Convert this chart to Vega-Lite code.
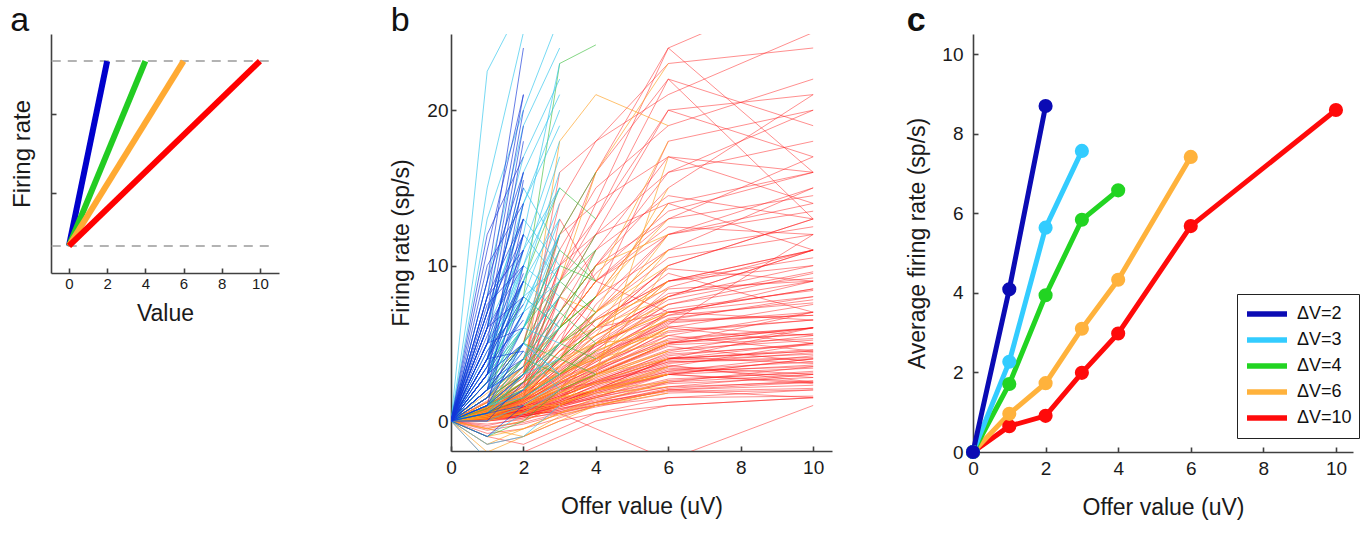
{
"$schema": "https://vega.github.io/schema/vega-lite/v6.json",
"background": "white",
"padding": {"left": 10, "top": 4, "right": 8, "bottom": 4},
"config": {
  "view": {"stroke": null},
  "font": "Liberation Sans",
  "axis": {"grid": false, "domainColor": "#404040", "domainWidth": 1.6, "tickColor": "#404040", "tickWidth": 1.6, "tickSize": -5, "labelColor": "#1a1a1a", "titleColor": "#1a1a1a", "titleFontWeight": "normal", "labelFont": "Liberation Sans", "titleFont": "Liberation Sans", "labelFlush": false, "labelOverlap": false}
},
"resolve": {"scale": {"color": "independent"}, "legend": {"color": "independent"}},
"datasets": {
  "aref": [{"x": -0.9, "x2": 10.8, "y": 0.34}, {"x": -0.9, "x2": 10.8, "y": 2.66}],
  "alines": [
    {"d": "2", "x": 0, "y": 0.34}, {"d": "2", "x": 2, "y": 2.66},
    {"d": "4", "x": 0, "y": 0.34}, {"d": "4", "x": 4, "y": 2.66},
    {"d": "6", "x": 0, "y": 0.34}, {"d": "6", "x": 6, "y": 2.66},
    {"d": "10", "x": 0, "y": 0.34}, {"d": "10", "x": 10, "y": 2.66}
  ],
  "b2": [
    {"n":1,"x":0,"y":0},{"n":1,"x":1,"y":4},{"n":1,"x":2,"y":9},
    {"n":2,"x":0,"y":0},{"n":2,"x":1,"y":6},{"n":2,"x":2,"y":16},
    {"n":3,"x":0,"y":0},{"n":3,"x":1,"y":3},{"n":3,"x":2,"y":7},
    {"n":4,"x":0,"y":0},{"n":4,"x":1,"y":8},{"n":4,"x":2,"y":21},
    {"n":5,"x":0,"y":0},{"n":5,"x":1,"y":5},{"n":5,"x":2,"y":12},
    {"n":6,"x":0,"y":0},{"n":6,"x":1,"y":2},{"n":6,"x":2,"y":5},
    {"n":7,"x":0,"y":0},{"n":7,"x":1,"y":7},{"n":7,"x":2,"y":15},
    {"n":8,"x":0,"y":0},{"n":8,"x":1,"y":1},{"n":8,"x":2,"y":3},
    {"n":9,"x":0,"y":0},{"n":9,"x":1,"y":4},{"n":9,"x":2,"y":11},
    {"n":10,"x":0,"y":0},{"n":10,"x":1,"y":9},{"n":10,"x":2,"y":24},
    {"n":11,"x":0,"y":0},{"n":11,"x":1,"y":3},{"n":11,"x":2,"y":13},
    {"n":12,"x":0,"y":0},{"n":12,"x":1,"y":6},{"n":12,"x":2,"y":10},
    {"n":13,"x":0,"y":0},{"n":13,"x":1,"y":2},{"n":13,"x":2,"y":8},
    {"n":14,"x":0,"y":0},{"n":14,"x":1,"y":5},{"n":14,"x":2,"y":18},
    {"n":15,"x":0,"y":0},{"n":15,"x":1,"y":10},{"n":15,"x":2,"y":14},
    {"n":16,"x":0,"y":0},{"n":16,"x":1,"y":1.5},{"n":16,"x":2,"y":6},
    {"n":17,"x":0,"y":0},{"n":17,"x":1,"y":3.5},{"n":17,"x":2,"y":9.5},
    {"n":18,"x":0,"y":0},{"n":18,"x":1,"y":0.5},{"n":18,"x":2,"y":2},
    {"n":19,"x":0,"y":0},{"n":19,"x":1,"y":7},{"n":19,"x":2,"y":20},
    {"n":20,"x":0,"y":0},{"n":20,"x":1,"y":4.5},{"n":20,"x":2,"y":7.5},
    {"n":21,"x":0,"y":0},{"n":21,"x":1,"y":2.5},{"n":21,"x":2,"y":4},
    {"n":22,"x":0,"y":0},{"n":22,"x":1,"y":6.5},{"n":22,"x":2,"y":13},
    {"n":23,"x":0,"y":0},{"n":23,"x":1,"y":12},{"n":23,"x":2,"y":17},
    {"n":24,"x":0,"y":0},{"n":24,"x":1,"y":3},{"n":24,"x":2,"y":15.5},
    {"n":25,"x":0,"y":0},{"n":25,"x":1,"y":1},{"n":25,"x":2,"y":10},
    {"n":26,"x":0,"y":0},{"n":26,"x":1,"y":5},{"n":26,"x":2,"y":6},
    {"n":27,"x":0,"y":0},{"n":27,"x":1,"y":-1},{"n":27,"x":2,"y":1},
    {"n":28,"x":0,"y":0},{"n":28,"x":1,"y":0},{"n":28,"x":2,"y":2.5},
    {"n":29,"x":0,"y":0},{"n":29,"x":1,"y":8},{"n":29,"x":2,"y":11},
    {"n":30,"x":0,"y":0},{"n":30,"x":1,"y":2},{"n":30,"x":2,"y":12},
    {"n":31,"x":0,"y":0},{"n":31,"x":1,"y":3},{"n":31,"x":2,"y":5},
    {"n":32,"x":0,"y":0},{"n":32,"x":1,"y":5},{"n":32,"x":2,"y":9},
    {"n":33,"x":0,"y":0},{"n":33,"x":1,"y":7},{"n":33,"x":2,"y":12},
    {"n":34,"x":0,"y":0},{"n":34,"x":1,"y":4},{"n":34,"x":2,"y":14},
    {"n":35,"x":0,"y":0},{"n":35,"x":1,"y":2},{"n":35,"x":2,"y":3.5},
    {"n":36,"x":0,"y":0},{"n":36,"x":1,"y":6},{"n":36,"x":2,"y":8},
    {"n":37,"x":0,"y":0},{"n":37,"x":1,"y":9},{"n":37,"x":2,"y":16},
    {"n":38,"x":0,"y":0},{"n":38,"x":1,"y":3.5},{"n":38,"x":2,"y":6.5},
    {"n":39,"x":0,"y":0},{"n":39,"x":1,"y":1.5},{"n":39,"x":2,"y":4.5},
    {"n":40,"x":0,"y":0},{"n":40,"x":1,"y":11},{"n":40,"x":2,"y":21},
    {"n":41,"x":0,"y":0},{"n":41,"x":1,"y":4},{"n":41,"x":2,"y":8},
    {"n":42,"x":0,"y":0},{"n":42,"x":1,"y":5.5},{"n":42,"x":2,"y":11},
    {"n":43,"x":0,"y":0},{"n":43,"x":1,"y":2.5},{"n":43,"x":2,"y":7},
    {"n":44,"x":0,"y":0},{"n":44,"x":1,"y":8},{"n":44,"x":2,"y":13},
    {"n":45,"x":0,"y":0},{"n":45,"x":1,"y":6},{"n":45,"x":2,"y":19},
    {"n":46,"x":0,"y":0},{"n":46,"x":1,"y":1},{"n":46,"x":2,"y":5},
    {"n":47,"x":0,"y":0},{"n":47,"x":1,"y":3},{"n":47,"x":2,"y":9},
    {"n":48,"x":0,"y":0},{"n":48,"x":1,"y":7.5},{"n":48,"x":2,"y":10},
    {"n":49,"x":0,"y":0},{"n":49,"x":1,"y":0.5},{"n":49,"x":2,"y":1},
    {"n":50,"x":0,"y":0},{"n":50,"x":1,"y":4},{"n":50,"x":2,"y":4.5}
  ],
  "b3": [
    {"n":1,"x":0,"y":0},{"n":1,"x":1,"y":2},{"n":1,"x":2,"y":5},{"n":1,"x":3,"y":8},
    {"n":2,"x":0,"y":0},{"n":2,"x":1,"y":4},{"n":2,"x":2,"y":10},{"n":2,"x":3,"y":15},
    {"n":3,"x":0,"y":0},{"n":3,"x":1,"y":1},{"n":3,"x":2,"y":3},{"n":3,"x":3,"y":6},
    {"n":4,"x":0,"y":0},{"n":4,"x":1,"y":6},{"n":4,"x":2,"y":14},{"n":4,"x":3,"y":20},
    {"n":5,"x":0,"y":0},{"n":5,"x":1,"y":3},{"n":5,"x":2,"y":7},{"n":5,"x":3,"y":12},
    {"n":6,"x":0,"y":0},{"n":6,"x":1,"y":22.5},{"n":6,"x":2,"y":27},{"n":6,"x":3,"y":29},
    {"n":7,"x":0,"y":0},{"n":7,"x":1,"y":5},{"n":7,"x":2,"y":12},{"n":7,"x":3,"y":23},
    {"n":8,"x":0,"y":0},{"n":8,"x":1,"y":2},{"n":8,"x":2,"y":9},{"n":8,"x":3,"y":16},
    {"n":9,"x":0,"y":0},{"n":9,"x":1,"y":8},{"n":9,"x":2,"y":17},{"n":9,"x":3,"y":22},
    {"n":10,"x":0,"y":0},{"n":10,"x":1,"y":1},{"n":10,"x":2,"y":4},{"n":10,"x":3,"y":9},
    {"n":11,"x":0,"y":0},{"n":11,"x":1,"y":3},{"n":11,"x":2,"y":6},{"n":11,"x":3,"y":5},
    {"n":12,"x":0,"y":0},{"n":12,"x":1,"y":7},{"n":12,"x":2,"y":13},{"n":12,"x":3,"y":10},
    {"n":13,"x":0,"y":0},{"n":13,"x":1,"y":0.5},{"n":13,"x":2,"y":2},{"n":13,"x":3,"y":4},
    {"n":14,"x":0,"y":0},{"n":14,"x":1,"y":4},{"n":14,"x":2,"y":8},{"n":14,"x":3,"y":14},
    {"n":15,"x":0,"y":0},{"n":15,"x":1,"y":2.5},{"n":15,"x":2,"y":11},{"n":15,"x":3,"y":18},
    {"n":16,"x":0,"y":0},{"n":16,"x":1,"y":6},{"n":16,"x":2,"y":16},{"n":16,"x":3,"y":21},
    {"n":17,"x":0,"y":0},{"n":17,"x":1,"y":1.5},{"n":17,"x":2,"y":5},{"n":17,"x":3,"y":3},
    {"n":18,"x":0,"y":0},{"n":18,"x":1,"y":9},{"n":18,"x":2,"y":19},{"n":18,"x":3,"y":24},
    {"n":19,"x":0,"y":0},{"n":19,"x":1,"y":3},{"n":19,"x":2,"y":9},{"n":19,"x":3,"y":7},
    {"n":20,"x":0,"y":0},{"n":20,"x":1,"y":5},{"n":20,"x":2,"y":7},{"n":20,"x":3,"y":13},
    {"n":21,"x":0,"y":0},{"n":21,"x":1,"y":2},{"n":21,"x":2,"y":6},{"n":21,"x":3,"y":11},
    {"n":22,"x":0,"y":0},{"n":22,"x":1,"y":4},{"n":22,"x":2,"y":12},{"n":22,"x":3,"y":9},
    {"n":23,"x":0,"y":0},{"n":23,"x":1,"y":1},{"n":23,"x":2,"y":2},{"n":23,"x":3,"y":5},
    {"n":24,"x":0,"y":0},{"n":24,"x":1,"y":13},{"n":24,"x":2,"y":20},{"n":24,"x":3,"y":26},
    {"n":25,"x":0,"y":0},{"n":25,"x":1,"y":3.5},{"n":25,"x":2,"y":14},{"n":25,"x":3,"y":19},
    {"n":26,"x":0,"y":0},{"n":26,"x":1,"y":-1.5},{"n":26,"x":2,"y":-1},{"n":26,"x":3,"y":1},
    {"n":27,"x":0,"y":0},{"n":27,"x":1,"y":-2.5},{"n":27,"x":2,"y":-3},{"n":27,"x":3,"y":-2},
    {"n":28,"x":0,"y":0},{"n":28,"x":1,"y":0},{"n":28,"x":2,"y":1},{"n":28,"x":3,"y":2.5},
    {"n":29,"x":0,"y":0},{"n":29,"x":1,"y":2},{"n":29,"x":2,"y":3.5},{"n":29,"x":3,"y":6.5},
    {"n":30,"x":0,"y":0},{"n":30,"x":1,"y":15},{"n":30,"x":2,"y":25},{"n":30,"x":3,"y":27},
    {"n":31,"x":0,"y":0},{"n":31,"x":1,"y":2},{"n":31,"x":2,"y":4},{"n":31,"x":3,"y":6},
    {"n":32,"x":0,"y":0},{"n":32,"x":1,"y":3},{"n":32,"x":2,"y":8},{"n":32,"x":3,"y":10},
    {"n":33,"x":0,"y":0},{"n":33,"x":1,"y":1},{"n":33,"x":2,"y":3},{"n":33,"x":3,"y":4},
    {"n":34,"x":0,"y":0},{"n":34,"x":1,"y":5},{"n":34,"x":2,"y":10},{"n":34,"x":3,"y":8},
    {"n":35,"x":0,"y":0},{"n":35,"x":1,"y":2},{"n":35,"x":2,"y":7},{"n":35,"x":3,"y":9},
    {"n":36,"x":0,"y":0},{"n":36,"x":1,"y":4},{"n":36,"x":2,"y":6},{"n":36,"x":3,"y":12},
    {"n":37,"x":0,"y":0},{"n":37,"x":1,"y":1.5},{"n":37,"x":2,"y":4},{"n":37,"x":3,"y":7},
    {"n":38,"x":0,"y":0},{"n":38,"x":1,"y":3},{"n":38,"x":2,"y":5},{"n":38,"x":3,"y":3},
    {"n":39,"x":0,"y":0},{"n":39,"x":1,"y":6},{"n":39,"x":2,"y":11},{"n":39,"x":3,"y":15},
    {"n":40,"x":0,"y":0},{"n":40,"x":1,"y":2.5},{"n":40,"x":2,"y":6},{"n":40,"x":3,"y":10},
    {"n":41,"x":0,"y":0},{"n":41,"x":1,"y":0.5},{"n":41,"x":2,"y":3},{"n":41,"x":3,"y":5},
    {"n":42,"x":0,"y":0},{"n":42,"x":1,"y":4.5},{"n":42,"x":2,"y":9},{"n":42,"x":3,"y":13},
    {"n":43,"x":0,"y":0},{"n":43,"x":1,"y":1},{"n":43,"x":2,"y":5},{"n":43,"x":3,"y":8},
    {"n":44,"x":0,"y":0},{"n":44,"x":1,"y":3},{"n":44,"x":2,"y":10},{"n":44,"x":3,"y":17},
    {"n":45,"x":0,"y":0},{"n":45,"x":1,"y":2},{"n":45,"x":2,"y":4.5},{"n":45,"x":3,"y":2},
    {"n":46,"x":0,"y":0},{"n":46,"x":1,"y":7},{"n":46,"x":2,"y":15},{"n":46,"x":3,"y":11},
    {"n":47,"x":0,"y":0},{"n":47,"x":1,"y":1},{"n":47,"x":2,"y":1.5},{"n":47,"x":3,"y":3},
    {"n":48,"x":0,"y":0},{"n":48,"x":1,"y":5},{"n":48,"x":2,"y":8},{"n":48,"x":3,"y":6},
    {"n":49,"x":0,"y":0},{"n":49,"x":1,"y":3.5},{"n":49,"x":2,"y":7.5},{"n":49,"x":3,"y":12},
    {"n":50,"x":0,"y":0},{"n":50,"x":1,"y":-1},{"n":50,"x":2,"y":0.5},{"n":50,"x":3,"y":2}
  ],
  "b4": [
    {"n":1,"x":0,"y":0},{"n":1,"x":1,"y":1},{"n":1,"x":2,"y":3},{"n":1,"x":3,"y":6},{"n":1,"x":4,"y":8},
    {"n":2,"x":0,"y":0},{"n":2,"x":1,"y":2},{"n":2,"x":2,"y":5},{"n":2,"x":3,"y":9},{"n":2,"x":4,"y":7},
    {"n":3,"x":0,"y":0},{"n":3,"x":1,"y":0.5},{"n":3,"x":2,"y":2},{"n":3,"x":3,"y":4},{"n":3,"x":4,"y":6},
    {"n":4,"x":0,"y":0},{"n":4,"x":1,"y":3},{"n":4,"x":2,"y":8},{"n":4,"x":3,"y":23},{"n":4,"x":4,"y":24.2},
    {"n":5,"x":0,"y":0},{"n":5,"x":1,"y":1.5},{"n":5,"x":2,"y":4},{"n":5,"x":3,"y":8},{"n":5,"x":4,"y":12},
    {"n":6,"x":0,"y":0},{"n":6,"x":1,"y":2},{"n":6,"x":2,"y":6},{"n":6,"x":3,"y":10},{"n":6,"x":4,"y":9},
    {"n":7,"x":0,"y":0},{"n":7,"x":1,"y":1},{"n":7,"x":2,"y":2},{"n":7,"x":3,"y":5},{"n":7,"x":4,"y":4},
    {"n":8,"x":0,"y":0},{"n":8,"x":1,"y":4},{"n":8,"x":2,"y":9},{"n":8,"x":3,"y":15},{"n":8,"x":4,"y":13},
    {"n":9,"x":0,"y":0},{"n":9,"x":1,"y":0.5},{"n":9,"x":2,"y":3},{"n":9,"x":3,"y":7},{"n":9,"x":4,"y":10},
    {"n":10,"x":0,"y":0},{"n":10,"x":1,"y":2.5},{"n":10,"x":2,"y":5},{"n":10,"x":3,"y":12},{"n":10,"x":4,"y":16},
    {"n":11,"x":0,"y":0},{"n":11,"x":1,"y":1},{"n":11,"x":2,"y":4},{"n":11,"x":3,"y":3},{"n":11,"x":4,"y":5},
    {"n":12,"x":0,"y":0},{"n":12,"x":1,"y":3},{"n":12,"x":2,"y":8},{"n":12,"x":3,"y":6},{"n":12,"x":4,"y":11},
    {"n":13,"x":0,"y":0},{"n":13,"x":1,"y":-1},{"n":13,"x":2,"y":0},{"n":13,"x":3,"y":2},{"n":13,"x":4,"y":3},
    {"n":14,"x":0,"y":0},{"n":14,"x":1,"y":0.8},{"n":14,"x":2,"y":2.5},{"n":14,"x":3,"y":5},{"n":14,"x":4,"y":6.5},
    {"n":15,"x":0,"y":0},{"n":15,"x":1,"y":1.5},{"n":15,"x":2,"y":3},{"n":15,"x":3,"y":5},{"n":15,"x":4,"y":7},
    {"n":16,"x":0,"y":0},{"n":16,"x":1,"y":2},{"n":16,"x":2,"y":4},{"n":16,"x":3,"y":7},{"n":16,"x":4,"y":5},
    {"n":17,"x":0,"y":0},{"n":17,"x":1,"y":0.5},{"n":17,"x":2,"y":1.5},{"n":17,"x":3,"y":3},{"n":17,"x":4,"y":4.5},
    {"n":18,"x":0,"y":0},{"n":18,"x":1,"y":3},{"n":18,"x":2,"y":6},{"n":18,"x":3,"y":9},{"n":18,"x":4,"y":11},
    {"n":19,"x":0,"y":0},{"n":19,"x":1,"y":1},{"n":19,"x":2,"y":3.5},{"n":19,"x":3,"y":6},{"n":19,"x":4,"y":8},
    {"n":20,"x":0,"y":0},{"n":20,"x":1,"y":2},{"n":20,"x":2,"y":5},{"n":20,"x":3,"y":4},{"n":20,"x":4,"y":6},
    {"n":21,"x":0,"y":0},{"n":21,"x":1,"y":1},{"n":21,"x":2,"y":2.5},{"n":21,"x":3,"y":4},{"n":21,"x":4,"y":3},
    {"n":22,"x":0,"y":0},{"n":22,"x":1,"y":2.5},{"n":22,"x":2,"y":6},{"n":22,"x":3,"y":11},{"n":22,"x":4,"y":9}
  ],
  "b6": [
    {"n":1,"x":0,"y":0},{"n":1,"x":1,"y":0.5},{"n":1,"x":2,"y":1},{"n":1,"x":3,"y":2},{"n":1,"x":4,"y":3},{"n":1,"x":6,"y":5},
    {"n":2,"x":0,"y":0},{"n":2,"x":1,"y":1},{"n":2,"x":2,"y":2},{"n":2,"x":3,"y":4},{"n":2,"x":4,"y":6},{"n":2,"x":6,"y":9},
    {"n":3,"x":0,"y":0},{"n":3,"x":1,"y":0.3},{"n":3,"x":2,"y":0.8},{"n":3,"x":3,"y":1.5},{"n":3,"x":4,"y":2.5},{"n":3,"x":6,"y":4},
    {"n":4,"x":0,"y":0},{"n":4,"x":1,"y":1.5},{"n":4,"x":2,"y":3},{"n":4,"x":3,"y":6},{"n":4,"x":4,"y":8},{"n":4,"x":6,"y":13},
    {"n":5,"x":0,"y":0},{"n":5,"x":1,"y":0.5},{"n":5,"x":2,"y":3},{"n":5,"x":3,"y":18},{"n":5,"x":4,"y":21},{"n":5,"x":6,"y":19},
    {"n":6,"x":0,"y":0},{"n":6,"x":1,"y":1},{"n":6,"x":2,"y":4},{"n":6,"x":3,"y":9},{"n":6,"x":4,"y":16},{"n":6,"x":6,"y":23},
    {"n":7,"x":0,"y":0},{"n":7,"x":1,"y":0.2},{"n":7,"x":2,"y":0.5},{"n":7,"x":3,"y":1},{"n":7,"x":4,"y":2},{"n":7,"x":6,"y":3},
    {"n":8,"x":0,"y":0},{"n":8,"x":1,"y":1},{"n":8,"x":2,"y":2},{"n":8,"x":3,"y":3},{"n":8,"x":4,"y":5},{"n":8,"x":6,"y":7},
    {"n":9,"x":0,"y":0},{"n":9,"x":1,"y":-0.5},{"n":9,"x":2,"y":-1},{"n":9,"x":3,"y":0},{"n":9,"x":4,"y":1},{"n":9,"x":6,"y":2},
    {"n":10,"x":0,"y":0},{"n":10,"x":1,"y":0.8},{"n":10,"x":2,"y":1.5},{"n":10,"x":3,"y":3},{"n":10,"x":4,"y":4},{"n":10,"x":6,"y":6},
    {"n":11,"x":0,"y":0},{"n":11,"x":1,"y":2},{"n":11,"x":2,"y":4},{"n":11,"x":3,"y":7},{"n":11,"x":4,"y":10},{"n":11,"x":6,"y":12},
    {"n":12,"x":0,"y":0},{"n":12,"x":1,"y":0.4},{"n":12,"x":2,"y":1},{"n":12,"x":3,"y":2},{"n":12,"x":4,"y":4},{"n":12,"x":6,"y":8},
    {"n":13,"x":0,"y":0},{"n":13,"x":1,"y":1.2},{"n":13,"x":2,"y":2.5},{"n":13,"x":3,"y":3.5},{"n":13,"x":4,"y":5},{"n":13,"x":6,"y":5.5},
    {"n":14,"x":0,"y":0},{"n":14,"x":1,"y":0.6},{"n":14,"x":2,"y":1.8},{"n":14,"x":3,"y":2.8},{"n":14,"x":4,"y":3.5},{"n":14,"x":6,"y":10},
    {"n":15,"x":0,"y":0},{"n":15,"x":1,"y":0},{"n":15,"x":2,"y":0.5},{"n":15,"x":3,"y":1.5},{"n":15,"x":4,"y":2},{"n":15,"x":6,"y":2.5},
    {"n":16,"x":0,"y":0},{"n":16,"x":1,"y":1.5},{"n":16,"x":2,"y":2},{"n":16,"x":3,"y":4},{"n":16,"x":4,"y":7},{"n":16,"x":6,"y":15},
    {"n":17,"x":0,"y":0},{"n":17,"x":1,"y":0.3},{"n":17,"x":2,"y":1.2},{"n":17,"x":3,"y":2.2},{"n":17,"x":4,"y":3},{"n":17,"x":6,"y":4.5},
    {"n":18,"x":0,"y":0},{"n":18,"x":1,"y":2.5},{"n":18,"x":2,"y":5},{"n":18,"x":3,"y":8},{"n":18,"x":4,"y":7},{"n":18,"x":6,"y":11},
    {"n":19,"x":0,"y":0},{"n":19,"x":1,"y":0.7},{"n":19,"x":2,"y":1.4},{"n":19,"x":3,"y":2.6},{"n":19,"x":4,"y":4.5},{"n":19,"x":6,"y":6.5},
    {"n":20,"x":0,"y":0},{"n":20,"x":1,"y":-1},{"n":20,"x":2,"y":-0.5},{"n":20,"x":3,"y":0.5},{"n":20,"x":4,"y":1.5},{"n":20,"x":6,"y":3.5},
    {"n":21,"x":0,"y":0},{"n":21,"x":1,"y":1},{"n":21,"x":2,"y":3},{"n":21,"x":3,"y":5},{"n":21,"x":4,"y":6},{"n":21,"x":6,"y":8},
    {"n":22,"x":0,"y":0},{"n":22,"x":1,"y":0.5},{"n":22,"x":2,"y":1},{"n":22,"x":3,"y":1},{"n":22,"x":4,"y":3},{"n":22,"x":6,"y":17},
    {"n":23,"x":0,"y":0},{"n":23,"x":1,"y":0.9},{"n":23,"x":2,"y":2.2},{"n":23,"x":3,"y":4.5},{"n":23,"x":4,"y":5.5},{"n":23,"x":6,"y":7.5},
    {"n":24,"x":0,"y":0},{"n":24,"x":1,"y":0.2},{"n":24,"x":2,"y":0.6},{"n":24,"x":3,"y":1.8},{"n":24,"x":4,"y":2.4},{"n":24,"x":6,"y":3},
    {"n":25,"x":0,"y":0},{"n":25,"x":1,"y":-2},{"n":25,"x":2,"y":-1},{"n":25,"x":3,"y":0.3},{"n":25,"x":4,"y":1},{"n":25,"x":6,"y":1.8},
    {"n":26,"x":0,"y":0},{"n":26,"x":1,"y":1.8},{"n":26,"x":2,"y":3.5},{"n":26,"x":3,"y":6},{"n":26,"x":4,"y":9},{"n":26,"x":6,"y":18},
    {"n":27,"x":0,"y":0},{"n":27,"x":1,"y":0.4},{"n":27,"x":2,"y":1.6},{"n":27,"x":3,"y":3.2},{"n":27,"x":4,"y":4},{"n":27,"x":6,"y":5.2},
    {"n":28,"x":0,"y":0},{"n":28,"x":1,"y":0.5},{"n":28,"x":2,"y":1.2},{"n":28,"x":3,"y":2.5},{"n":28,"x":4,"y":3.5},{"n":28,"x":6,"y":6},
    {"n":29,"x":0,"y":0},{"n":29,"x":1,"y":1},{"n":29,"x":2,"y":2.5},{"n":29,"x":3,"y":4},{"n":29,"x":4,"y":5},{"n":29,"x":6,"y":9},
    {"n":30,"x":0,"y":0},{"n":30,"x":1,"y":0.3},{"n":30,"x":2,"y":1},{"n":30,"x":3,"y":1.8},{"n":30,"x":4,"y":2.8},{"n":30,"x":6,"y":4.5},
    {"n":31,"x":0,"y":0},{"n":31,"x":1,"y":0.8},{"n":31,"x":2,"y":2},{"n":31,"x":3,"y":3.5},{"n":31,"x":4,"y":5.5},{"n":31,"x":6,"y":11},
    {"n":32,"x":0,"y":0},{"n":32,"x":1,"y":0.2},{"n":32,"x":2,"y":0.8},{"n":32,"x":3,"y":1.5},{"n":32,"x":4,"y":2},{"n":32,"x":6,"y":3.5},
    {"n":33,"x":0,"y":0},{"n":33,"x":1,"y":1.2},{"n":33,"x":2,"y":3},{"n":33,"x":3,"y":5},{"n":33,"x":4,"y":7},{"n":33,"x":6,"y":10},
    {"n":34,"x":0,"y":0},{"n":34,"x":1,"y":0.6},{"n":34,"x":2,"y":1.5},{"n":34,"x":3,"y":2.5},{"n":34,"x":4,"y":3.5},{"n":34,"x":6,"y":5},
    {"n":35,"x":0,"y":0},{"n":35,"x":1,"y":-0.5},{"n":35,"x":2,"y":0},{"n":35,"x":3,"y":1},{"n":35,"x":4,"y":2},{"n":35,"x":6,"y":3},
    {"n":36,"x":0,"y":0},{"n":36,"x":1,"y":1},{"n":36,"x":2,"y":2},{"n":36,"x":3,"y":3},{"n":36,"x":4,"y":4.5},{"n":36,"x":6,"y":6.5},
    {"n":37,"x":0,"y":0},{"n":37,"x":1,"y":0.4},{"n":37,"x":2,"y":1},{"n":37,"x":3,"y":2.2},{"n":37,"x":4,"y":3.3},{"n":37,"x":6,"y":7},
    {"n":38,"x":0,"y":0},{"n":38,"x":1,"y":2},{"n":38,"x":2,"y":4},{"n":38,"x":3,"y":6},{"n":38,"x":4,"y":8},{"n":38,"x":6,"y":14},
    {"n":39,"x":0,"y":0},{"n":39,"x":1,"y":0.7},{"n":39,"x":2,"y":1.7},{"n":39,"x":3,"y":3},{"n":39,"x":4,"y":4.2},{"n":39,"x":6,"y":5.8},
    {"n":40,"x":0,"y":0},{"n":40,"x":1,"y":0.1},{"n":40,"x":2,"y":0.5},{"n":40,"x":3,"y":1.2},{"n":40,"x":4,"y":1.8},{"n":40,"x":6,"y":2.2},
    {"n":41,"x":0,"y":0},{"n":41,"x":1,"y":1.5},{"n":41,"x":2,"y":3.5},{"n":41,"x":3,"y":5},{"n":41,"x":4,"y":6.5},{"n":41,"x":6,"y":8.5},
    {"n":42,"x":0,"y":0},{"n":42,"x":1,"y":0.5},{"n":42,"x":2,"y":1.3},{"n":42,"x":3,"y":2},{"n":42,"x":4,"y":3},{"n":42,"x":6,"y":4},
    {"n":43,"x":0,"y":0},{"n":43,"x":1,"y":0.9},{"n":43,"x":2,"y":1.8},{"n":43,"x":3,"y":3.8},{"n":43,"x":4,"y":5},{"n":43,"x":6,"y":7},
    {"n":44,"x":0,"y":0},{"n":44,"x":1,"y":-1.5},{"n":44,"x":2,"y":-0.5},{"n":44,"x":3,"y":0.5},{"n":44,"x":4,"y":1.2},{"n":44,"x":6,"y":2.6},
    {"n":45,"x":0,"y":0},{"n":45,"x":1,"y":0.6},{"n":45,"x":2,"y":2},{"n":45,"x":3,"y":4},{"n":45,"x":4,"y":6},{"n":45,"x":6,"y":12}
  ],
  "b10": [
    {"n":1,"x":0,"y":0},{"n":1,"x":1,"y":0.2},{"n":1,"x":2,"y":0.5},{"n":1,"x":3,"y":1},{"n":1,"x":4,"y":1.5},{"n":1,"x":6,"y":2.5},{"n":1,"x":10,"y":3},
    {"n":2,"x":0,"y":0},{"n":2,"x":1,"y":0.5},{"n":2,"x":2,"y":1},{"n":2,"x":3,"y":2},{"n":2,"x":4,"y":3},{"n":2,"x":6,"y":5},{"n":2,"x":10,"y":6},
    {"n":3,"x":0,"y":0},{"n":3,"x":1,"y":0.1},{"n":3,"x":2,"y":0.3},{"n":3,"x":3,"y":0.8},{"n":3,"x":4,"y":1.2},{"n":3,"x":6,"y":2},{"n":3,"x":10,"y":2.3},
    {"n":4,"x":0,"y":0},{"n":4,"x":1,"y":-0.5},{"n":4,"x":2,"y":0},{"n":4,"x":3,"y":1},{"n":4,"x":4,"y":2},{"n":4,"x":6,"y":4},{"n":4,"x":10,"y":5},
    {"n":5,"x":0,"y":0},{"n":5,"x":1,"y":0.3},{"n":5,"x":2,"y":0.8},{"n":5,"x":3,"y":1.5},{"n":5,"x":4,"y":2.5},{"n":5,"x":6,"y":4},{"n":5,"x":10,"y":4.5},
    {"n":6,"x":0,"y":0},{"n":6,"x":1,"y":0.6},{"n":6,"x":2,"y":1.5},{"n":6,"x":3,"y":3},{"n":6,"x":4,"y":5},{"n":6,"x":6,"y":9},{"n":6,"x":10,"y":11},
    {"n":7,"x":0,"y":0},{"n":7,"x":1,"y":0},{"n":7,"x":2,"y":0.2},{"n":7,"x":3,"y":0.5},{"n":7,"x":4,"y":1},{"n":7,"x":6,"y":1.5},{"n":7,"x":10,"y":1.6},
    {"n":8,"x":0,"y":0},{"n":8,"x":1,"y":0.4},{"n":8,"x":2,"y":1},{"n":8,"x":3,"y":2},{"n":8,"x":4,"y":4},{"n":8,"x":6,"y":7},{"n":8,"x":10,"y":8.5},
    {"n":9,"x":0,"y":0},{"n":9,"x":1,"y":-0.3},{"n":9,"x":2,"y":0.2},{"n":9,"x":3,"y":1},{"n":9,"x":4,"y":1.8},{"n":9,"x":6,"y":3},{"n":9,"x":10,"y":4},
    {"n":10,"x":0,"y":0},{"n":10,"x":1,"y":0.2},{"n":10,"x":2,"y":0.6},{"n":10,"x":3,"y":1.2},{"n":10,"x":4,"y":2},{"n":10,"x":6,"y":3.5},{"n":10,"x":10,"y":5},
    {"n":11,"x":0,"y":0},{"n":11,"x":1,"y":0.8},{"n":11,"x":2,"y":2},{"n":11,"x":3,"y":4},{"n":11,"x":4,"y":6},{"n":11,"x":6,"y":10},{"n":11,"x":10,"y":13},
    {"n":12,"x":0,"y":0},{"n":12,"x":1,"y":0.1},{"n":12,"x":2,"y":0.4},{"n":12,"x":3,"y":0.6},{"n":12,"x":4,"y":1},{"n":12,"x":6,"y":2},{"n":12,"x":10,"y":1.5},
    {"n":13,"x":0,"y":0},{"n":13,"x":1,"y":0.5},{"n":13,"x":2,"y":1.2},{"n":13,"x":3,"y":2.5},{"n":13,"x":4,"y":3.5},{"n":13,"x":6,"y":6},{"n":13,"x":10,"y":5},
    {"n":14,"x":0,"y":0},{"n":14,"x":1,"y":0.3},{"n":14,"x":2,"y":0.7},{"n":14,"x":3,"y":1.8},{"n":14,"x":4,"y":3},{"n":14,"x":6,"y":5},{"n":14,"x":10,"y":7},
    {"n":15,"x":0,"y":0},{"n":15,"x":1,"y":-0.8},{"n":15,"x":2,"y":-0.5},{"n":15,"x":3,"y":0.2},{"n":15,"x":4,"y":1},{"n":15,"x":6,"y":2},{"n":15,"x":10,"y":2.5},
    {"n":16,"x":0,"y":0},{"n":16,"x":1,"y":1},{"n":16,"x":2,"y":3},{"n":16,"x":3,"y":16},{"n":16,"x":4,"y":18},{"n":16,"x":6,"y":21},{"n":16,"x":10,"y":25},
    {"n":17,"x":0,"y":0},{"n":17,"x":1,"y":0.4},{"n":17,"x":2,"y":1},{"n":17,"x":3,"y":2},{"n":17,"x":4,"y":5},{"n":17,"x":6,"y":8},{"n":17,"x":10,"y":10},
    {"n":18,"x":0,"y":0},{"n":18,"x":1,"y":0.6},{"n":18,"x":2,"y":1.4},{"n":18,"x":3,"y":3.5},{"n":18,"x":4,"y":6},{"n":18,"x":6,"y":7},{"n":18,"x":10,"y":6.5},
    {"n":19,"x":0,"y":0},{"n":19,"x":1,"y":0.1},{"n":19,"x":2,"y":0.3},{"n":19,"x":3,"y":1},{"n":19,"x":4,"y":2},{"n":19,"x":6,"y":4},{"n":19,"x":10,"y":4.5},
    {"n":20,"x":0,"y":0},{"n":20,"x":1,"y":0.5},{"n":20,"x":2,"y":1.5},{"n":20,"x":3,"y":4},{"n":20,"x":4,"y":7},{"n":20,"x":6,"y":11},{"n":20,"x":10,"y":15},
    {"n":21,"x":0,"y":0},{"n":21,"x":1,"y":0.2},{"n":21,"x":2,"y":0.4},{"n":21,"x":3,"y":0.9},{"n":21,"x":4,"y":1.5},{"n":21,"x":6,"y":3},{"n":21,"x":10,"y":4},
    {"n":22,"x":0,"y":0},{"n":22,"x":1,"y":1},{"n":22,"x":2,"y":2},{"n":22,"x":3,"y":5},{"n":22,"x":4,"y":10},{"n":22,"x":6,"y":15},{"n":22,"x":10,"y":21},
    {"n":23,"x":0,"y":0},{"n":23,"x":1,"y":0.3},{"n":23,"x":2,"y":0.9},{"n":23,"x":3,"y":2},{"n":23,"x":4,"y":2.5},{"n":23,"x":6,"y":3.5},{"n":23,"x":10,"y":3},
    {"n":24,"x":0,"y":0},{"n":24,"x":1,"y":-0.2},{"n":24,"x":2,"y":0.1},{"n":24,"x":3,"y":0.6},{"n":24,"x":4,"y":1.2},{"n":24,"x":6,"y":2.5},{"n":24,"x":10,"y":3.5},
    {"n":25,"x":0,"y":0},{"n":25,"x":1,"y":0.7},{"n":25,"x":2,"y":1.6},{"n":25,"x":3,"y":3},{"n":25,"x":4,"y":4},{"n":25,"x":6,"y":6.5},{"n":25,"x":10,"y":8},
    {"n":26,"x":0,"y":0},{"n":26,"x":1,"y":0.4},{"n":26,"x":2,"y":1.1},{"n":26,"x":3,"y":2.2},{"n":26,"x":4,"y":3.2},{"n":26,"x":6,"y":5.5},{"n":26,"x":10,"y":4.5},
    {"n":27,"x":0,"y":0},{"n":27,"x":1,"y":0.2},{"n":27,"x":2,"y":0.8},{"n":27,"x":3,"y":1.6},{"n":27,"x":4,"y":2.8},{"n":27,"x":6,"y":4.5},{"n":27,"x":10,"y":6},
    {"n":28,"x":0,"y":0},{"n":28,"x":1,"y":1.5},{"n":28,"x":2,"y":3},{"n":28,"x":3,"y":8},{"n":28,"x":4,"y":12},{"n":28,"x":6,"y":20},{"n":28,"x":10,"y":17},
    {"n":29,"x":0,"y":0},{"n":29,"x":1,"y":0},{"n":29,"x":2,"y":0.3},{"n":29,"x":3,"y":0.7},{"n":29,"x":4,"y":1.4},{"n":29,"x":6,"y":2.2},{"n":29,"x":10,"y":3},
    {"n":30,"x":0,"y":0},{"n":30,"x":1,"y":0.5},{"n":30,"x":2,"y":1.3},{"n":30,"x":3,"y":2.8},{"n":30,"x":4,"y":4.5},{"n":30,"x":6,"y":8.5},{"n":30,"x":10,"y":9},
    {"n":31,"x":0,"y":0},{"n":31,"x":1,"y":0.3},{"n":31,"x":2,"y":0.6},{"n":31,"x":3,"y":1.4},{"n":31,"x":4,"y":2},{"n":31,"x":6,"y":3},{"n":31,"x":10,"y":2.5},
    {"n":32,"x":0,"y":0},{"n":32,"x":1,"y":0.9},{"n":32,"x":2,"y":2.5},{"n":32,"x":3,"y":6},{"n":32,"x":4,"y":9},{"n":32,"x":6,"y":13},{"n":32,"x":10,"y":17},
    {"n":33,"x":0,"y":0},{"n":33,"x":1,"y":0.1},{"n":33,"x":2,"y":0.5},{"n":33,"x":3,"y":1.1},{"n":33,"x":4,"y":1.9},{"n":33,"x":6,"y":3.2},{"n":33,"x":10,"y":4.2},
    {"n":34,"x":0,"y":0},{"n":34,"x":1,"y":0.6},{"n":34,"x":2,"y":1.8},{"n":34,"x":3,"y":3.2},{"n":34,"x":4,"y":4.8},{"n":34,"x":6,"y":7.5},{"n":34,"x":10,"y":9.5},
    {"n":35,"x":0,"y":0},{"n":35,"x":1,"y":-0.6},{"n":35,"x":2,"y":-0.2},{"n":35,"x":3,"y":0.4},{"n":35,"x":4,"y":0.9},{"n":35,"x":6,"y":1.8},{"n":35,"x":10,"y":2},
    {"n":36,"x":0,"y":0},{"n":36,"x":1,"y":0.4},{"n":36,"x":2,"y":0.9},{"n":36,"x":3,"y":2.4},{"n":36,"x":4,"y":3.6},{"n":36,"x":6,"y":6},{"n":36,"x":10,"y":7.5},
    {"n":37,"x":0,"y":0},{"n":37,"x":1,"y":0.2},{"n":37,"x":2,"y":0.7},{"n":37,"x":3,"y":1.3},{"n":37,"x":4,"y":2.3},{"n":37,"x":6,"y":3.8},{"n":37,"x":10,"y":4},
    {"n":38,"x":0,"y":0},{"n":38,"x":1,"y":1.2},{"n":38,"x":2,"y":2.8},{"n":38,"x":3,"y":7},{"n":38,"x":4,"y":10},{"n":38,"x":6,"y":16},{"n":38,"x":10,"y":20},
    {"n":39,"x":0,"y":0},{"n":39,"x":1,"y":0.3},{"n":39,"x":2,"y":1},{"n":39,"x":3,"y":2},{"n":39,"x":4,"y":3},{"n":39,"x":6,"y":5},{"n":39,"x":10,"y":6},
    {"n":40,"x":0,"y":0},{"n":40,"x":1,"y":0.5},{"n":40,"x":2,"y":1.2},{"n":40,"x":3,"y":2.6},{"n":40,"x":4,"y":3.8},{"n":40,"x":6,"y":6.2},{"n":40,"x":10,"y":12},
    {"n":41,"x":0,"y":0},{"n":41,"x":1,"y":0.8},{"n":41,"x":2,"y":2},{"n":41,"x":3,"y":4.5},{"n":41,"x":4,"y":6},{"n":41,"x":6,"y":9.5},{"n":41,"x":10,"y":7},
    {"n":42,"x":0,"y":0},{"n":42,"x":1,"y":0.1},{"n":42,"x":2,"y":0.4},{"n":42,"x":3,"y":1},{"n":42,"x":4,"y":1.6},{"n":42,"x":6,"y":2.6},{"n":42,"x":10,"y":3.2},
    {"n":43,"x":0,"y":0},{"n":43,"x":1,"y":0.4},{"n":43,"x":2,"y":1.3},{"n":43,"x":3,"y":2.9},{"n":43,"x":4,"y":4.2},{"n":43,"x":6,"y":7},{"n":43,"x":10,"y":8},
    {"n":44,"x":0,"y":0},{"n":44,"x":1,"y":-1},{"n":44,"x":2,"y":-1.5},{"n":44,"x":3,"y":-0.5},{"n":44,"x":4,"y":0.5},{"n":44,"x":6,"y":1},{"n":44,"x":10,"y":1.5},
    {"n":45,"x":0,"y":0},{"n":45,"x":1,"y":0.6},{"n":45,"x":2,"y":1.7},{"n":45,"x":3,"y":3.8},{"n":45,"x":4,"y":5.5},{"n":45,"x":6,"y":8},{"n":45,"x":10,"y":11},
    {"n":46,"x":0,"y":0},{"n":46,"x":1,"y":0.2},{"n":46,"x":2,"y":0.6},{"n":46,"x":3,"y":1.5},{"n":46,"x":4,"y":2.6},{"n":46,"x":6,"y":4.2},{"n":46,"x":10,"y":5},
    {"n":47,"x":0,"y":0},{"n":47,"x":1,"y":2},{"n":47,"x":2,"y":5},{"n":47,"x":3,"y":12},{"n":47,"x":4,"y":16},{"n":47,"x":6,"y":24},{"n":47,"x":10,"y":28},
    {"n":48,"x":0,"y":0},{"n":48,"x":1,"y":0.3},{"n":48,"x":2,"y":0.8},{"n":48,"x":3,"y":1.8},{"n":48,"x":4,"y":3.3},{"n":48,"x":6,"y":5.8},{"n":48,"x":10,"y":6.5},
    {"n":49,"x":0,"y":0},{"n":49,"x":1,"y":0.5},{"n":49,"x":2,"y":1.4},{"n":49,"x":3,"y":3.3},{"n":49,"x":4,"y":5},{"n":49,"x":6,"y":6.8},{"n":49,"x":10,"y":9},
    {"n":50,"x":0,"y":0},{"n":50,"x":1,"y":0.7},{"n":50,"x":2,"y":1.9},{"n":50,"x":3,"y":4},{"n":50,"x":4,"y":7.5},{"n":50,"x":6,"y":12},{"n":50,"x":10,"y":14},
    {"n":51,"x":0,"y":0},{"n":51,"x":1,"y":0.2},{"n":51,"x":2,"y":0.5},{"n":51,"x":3,"y":1.2},{"n":51,"x":4,"y":2.1},{"n":51,"x":6,"y":3.6},{"n":51,"x":10,"y":2.5},
    {"n":52,"x":0,"y":0},{"n":52,"x":1,"y":0.3},{"n":52,"x":2,"y":0.6},{"n":52,"x":3,"y":0.5},{"n":52,"x":4,"y":-0.5},{"n":52,"x":6,"y":-2.5},{"n":52,"x":10,"y":1},
    {"n":53,"x":0,"y":0},{"n":53,"x":1,"y":1},{"n":53,"x":2,"y":2.2},{"n":53,"x":3,"y":5},{"n":53,"x":4,"y":8},{"n":53,"x":6,"y":14},{"n":53,"x":10,"y":11},
    {"n":54,"x":0,"y":0},{"n":54,"x":1,"y":0.2},{"n":54,"x":2,"y":0.9},{"n":54,"x":3,"y":1.7},{"n":54,"x":4,"y":2.5},{"n":54,"x":6,"y":4},{"n":54,"x":10,"y":6},
    {"n":55,"x":0,"y":0},{"n":55,"x":1,"y":0.3},{"n":55,"x":2,"y":0.7},{"n":55,"x":3,"y":1.5},{"n":55,"x":4,"y":3},{"n":55,"x":6,"y":4.8},{"n":55,"x":10,"y":3.8},
    {"n":56,"x":0,"y":0},{"n":56,"x":1,"y":-1.5},{"n":56,"x":2,"y":-1},{"n":56,"x":3,"y":0},{"n":56,"x":4,"y":0.5},{"n":56,"x":6,"y":1.5},{"n":56,"x":10,"y":2},
    {"n":57,"x":0,"y":0},{"n":57,"x":1,"y":-2.5},{"n":57,"x":2,"y":-2},{"n":57,"x":3,"y":-1},{"n":57,"x":4,"y":0},{"n":57,"x":6,"y":1},{"n":57,"x":10,"y":1.5},
    {"n":58,"x":0,"y":0},{"n":58,"x":1,"y":0.5},{"n":58,"x":2,"y":1.5},{"n":58,"x":3,"y":10},{"n":58,"x":4,"y":12},{"n":58,"x":6,"y":14},{"n":58,"x":10,"y":16},
    {"n":59,"x":0,"y":0},{"n":59,"x":1,"y":0.8},{"n":59,"x":2,"y":2},{"n":59,"x":3,"y":13},{"n":59,"x":4,"y":9},{"n":59,"x":6,"y":7},{"n":59,"x":10,"y":8.5},
    {"n":60,"x":0,"y":0},{"n":60,"x":1,"y":0.4},{"n":60,"x":2,"y":1.5},{"n":60,"x":3,"y":8},{"n":60,"x":4,"y":6},{"n":60,"x":6,"y":9},{"n":60,"x":10,"y":11},
    {"n":61,"x":0,"y":0},{"n":61,"x":1,"y":0.3},{"n":61,"x":2,"y":0.8},{"n":61,"x":3,"y":1.6},{"n":61,"x":4,"y":2.4},{"n":61,"x":6,"y":4},{"n":61,"x":10,"y":4.6},
    {"n":62,"x":0,"y":0},{"n":62,"x":1,"y":0.5},{"n":62,"x":2,"y":1.1},{"n":62,"x":3,"y":2.3},{"n":62,"x":4,"y":3.4},{"n":62,"x":6,"y":5.2},{"n":62,"x":10,"y":6},
    {"n":63,"x":0,"y":0},{"n":63,"x":1,"y":0.2},{"n":63,"x":2,"y":0.5},{"n":63,"x":3,"y":1.1},{"n":63,"x":4,"y":1.7},{"n":63,"x":6,"y":3},{"n":63,"x":10,"y":3.4},
    {"n":64,"x":0,"y":0},{"n":64,"x":1,"y":0.6},{"n":64,"x":2,"y":1.4},{"n":64,"x":3,"y":2.7},{"n":64,"x":4,"y":3.9},{"n":64,"x":6,"y":6.3},{"n":64,"x":10,"y":7},
    {"n":65,"x":0,"y":0},{"n":65,"x":1,"y":0.1},{"n":65,"x":2,"y":0.4},{"n":65,"x":3,"y":0.9},{"n":65,"x":4,"y":1.5},{"n":65,"x":6,"y":2.4},{"n":65,"x":10,"y":2.8},
    {"n":66,"x":0,"y":0},{"n":66,"x":1,"y":0.4},{"n":66,"x":2,"y":0.9},{"n":66,"x":3,"y":1.9},{"n":66,"x":4,"y":2.9},{"n":66,"x":6,"y":4.6},{"n":66,"x":10,"y":5.2},
    {"n":67,"x":0,"y":0},{"n":67,"x":1,"y":0.7},{"n":67,"x":2,"y":1.7},{"n":67,"x":3,"y":3.4},{"n":67,"x":4,"y":4.8},{"n":67,"x":6,"y":7.2},{"n":67,"x":10,"y":8.4},
    {"n":68,"x":0,"y":0},{"n":68,"x":1,"y":0.2},{"n":68,"x":2,"y":0.6},{"n":68,"x":3,"y":1.3},{"n":68,"x":4,"y":2},{"n":68,"x":6,"y":3.3},{"n":68,"x":10,"y":3.8},
    {"n":69,"x":0,"y":0},{"n":69,"x":1,"y":0.3},{"n":69,"x":2,"y":1},{"n":69,"x":3,"y":2},{"n":69,"x":4,"y":3.1},{"n":69,"x":6,"y":5},{"n":69,"x":10,"y":5.6},
    {"n":70,"x":0,"y":0},{"n":70,"x":1,"y":0.5},{"n":70,"x":2,"y":1.3},{"n":70,"x":3,"y":2.5},{"n":70,"x":4,"y":3.6},{"n":70,"x":6,"y":5.5},{"n":70,"x":10,"y":7},
    {"n":71,"x":0,"y":0},{"n":71,"x":1,"y":0},{"n":71,"x":2,"y":0.3},{"n":71,"x":3,"y":0.8},{"n":71,"x":4,"y":1.3},{"n":71,"x":6,"y":2.2},{"n":71,"x":10,"y":2.5},
    {"n":72,"x":0,"y":0},{"n":72,"x":1,"y":0.4},{"n":72,"x":2,"y":1.2},{"n":72,"x":3,"y":2.4},{"n":72,"x":4,"y":3.8},{"n":72,"x":6,"y":6.5},{"n":72,"x":10,"y":6.8},
    {"n":73,"x":0,"y":0},{"n":73,"x":1,"y":0.8},{"n":73,"x":2,"y":2},{"n":73,"x":3,"y":4.2},{"n":73,"x":4,"y":6.5},{"n":73,"x":6,"y":9},{"n":73,"x":10,"y":10.5},
    {"n":74,"x":0,"y":0},{"n":74,"x":1,"y":0.2},{"n":74,"x":2,"y":0.7},{"n":74,"x":3,"y":1.4},{"n":74,"x":4,"y":2.2},{"n":74,"x":6,"y":3.7},{"n":74,"x":10,"y":4.4},
    {"n":75,"x":0,"y":0},{"n":75,"x":1,"y":0.3},{"n":75,"x":2,"y":0.6},{"n":75,"x":3,"y":1.2},{"n":75,"x":4,"y":2},{"n":75,"x":6,"y":3.4},{"n":75,"x":10,"y":2.8},
    {"n":76,"x":0,"y":0},{"n":76,"x":1,"y":0.6},{"n":76,"x":2,"y":1.5},{"n":76,"x":3,"y":3},{"n":76,"x":4,"y":4.4},{"n":76,"x":6,"y":6.8},{"n":76,"x":10,"y":7.6},
    {"n":77,"x":0,"y":0},{"n":77,"x":1,"y":0.1},{"n":77,"x":2,"y":0.3},{"n":77,"x":3,"y":0.7},{"n":77,"x":4,"y":1.2},{"n":77,"x":6,"y":1.9},{"n":77,"x":10,"y":2.1},
    {"n":78,"x":0,"y":0},{"n":78,"x":1,"y":0.4},{"n":78,"x":2,"y":1},{"n":78,"x":3,"y":2.1},{"n":78,"x":4,"y":3.2},{"n":78,"x":6,"y":5.3},{"n":78,"x":10,"y":6},
    {"n":79,"x":0,"y":0},{"n":79,"x":1,"y":0.5},{"n":79,"x":2,"y":1.4},{"n":79,"x":3,"y":2.9},{"n":79,"x":4,"y":4.3},{"n":79,"x":6,"y":6.1},{"n":79,"x":10,"y":5.5},
    {"n":80,"x":0,"y":0},{"n":80,"x":1,"y":0.3},{"n":80,"x":2,"y":0.9},{"n":80,"x":3,"y":1.8},{"n":80,"x":4,"y":2.7},{"n":80,"x":6,"y":4.3},{"n":80,"x":10,"y":4.9},
    {"n":81,"x":0,"y":0},{"n":81,"x":1,"y":1},{"n":81,"x":2,"y":2.4},{"n":81,"x":3,"y":4.8},{"n":81,"x":4,"y":7},{"n":81,"x":6,"y":10.5},{"n":81,"x":10,"y":12},
    {"n":82,"x":0,"y":0},{"n":82,"x":1,"y":0.2},{"n":82,"x":2,"y":0.5},{"n":82,"x":3,"y":1},{"n":82,"x":4,"y":1.8},{"n":82,"x":6,"y":3.1},{"n":82,"x":10,"y":3.6},
    {"n":83,"x":0,"y":0},{"n":83,"x":1,"y":0.6},{"n":83,"x":2,"y":1.6},{"n":83,"x":3,"y":3.1},{"n":83,"x":4,"y":4.6},{"n":83,"x":6,"y":7.5},{"n":83,"x":10,"y":9},
    {"n":84,"x":0,"y":0},{"n":84,"x":1,"y":0.3},{"n":84,"x":2,"y":0.8},{"n":84,"x":3,"y":1.7},{"n":84,"x":4,"y":2.6},{"n":84,"x":6,"y":4.1},{"n":84,"x":10,"y":3.7},
    {"n":85,"x":0,"y":0},{"n":85,"x":1,"y":0.4},{"n":85,"x":2,"y":1.1},{"n":85,"x":3,"y":2.2},{"n":85,"x":4,"y":3.5},{"n":85,"x":6,"y":5.7},{"n":85,"x":10,"y":6.5},
    {"n":86,"x":0,"y":0},{"n":86,"x":1,"y":0.2},{"n":86,"x":2,"y":0.4},{"n":86,"x":3,"y":1},{"n":86,"x":4,"y":1.6},{"n":86,"x":6,"y":2.7},{"n":86,"x":10,"y":3.1},
    {"n":87,"x":0,"y":0},{"n":87,"x":1,"y":0.7},{"n":87,"x":2,"y":1.8},{"n":87,"x":3,"y":3.6},{"n":87,"x":4,"y":5.2},{"n":87,"x":6,"y":8.2},{"n":87,"x":10,"y":9.2},
    {"n":88,"x":0,"y":0},{"n":88,"x":1,"y":0.1},{"n":88,"x":2,"y":0.6},{"n":88,"x":3,"y":1.3},{"n":88,"x":4,"y":2.3},{"n":88,"x":6,"y":3.9},{"n":88,"x":10,"y":4.3},
    {"n":89,"x":0,"y":0},{"n":89,"x":1,"y":0.5},{"n":89,"x":2,"y":1.2},{"n":89,"x":3,"y":2.6},{"n":89,"x":4,"y":4},{"n":89,"x":6,"y":6.4},{"n":89,"x":10,"y":6.8},
    {"n":90,"x":0,"y":0},{"n":90,"x":1,"y":0.3},{"n":90,"x":2,"y":0.7},{"n":90,"x":3,"y":1.5},{"n":90,"x":4,"y":2.5},{"n":90,"x":6,"y":4.4},{"n":90,"x":10,"y":5.5},
    {"n":91,"x":0,"y":0},{"n":91,"x":1,"y":0.9},{"n":91,"x":2,"y":2.2},{"n":91,"x":3,"y":4.5},{"n":91,"x":4,"y":6.6},{"n":91,"x":6,"y":9.8},{"n":91,"x":10,"y":9},
    {"n":92,"x":0,"y":0},{"n":92,"x":1,"y":0.2},{"n":92,"x":2,"y":0.6},{"n":92,"x":3,"y":1.2},{"n":92,"x":4,"y":2},{"n":92,"x":6,"y":3.2},{"n":92,"x":10,"y":3.5},
    {"n":93,"x":0,"y":0},{"n":93,"x":1,"y":0.4},{"n":93,"x":2,"y":1.3},{"n":93,"x":3,"y":2.8},{"n":93,"x":4,"y":4.1},{"n":93,"x":6,"y":6.6},{"n":93,"x":10,"y":7.8},
    {"n":94,"x":0,"y":0},{"n":94,"x":1,"y":0.6},{"n":94,"x":2,"y":1.3},{"n":94,"x":3,"y":2.4},{"n":94,"x":4,"y":3.3},{"n":94,"x":6,"y":5.1},{"n":94,"x":10,"y":5.6},
    {"n":95,"x":0,"y":0},{"n":95,"x":1,"y":0.1},{"n":95,"x":2,"y":0.5},{"n":95,"x":3,"y":1.1},{"n":95,"x":4,"y":1.9},{"n":95,"x":6,"y":3},{"n":95,"x":10,"y":2.4},
    {"n":96,"x":0,"y":0},{"n":96,"x":1,"y":0.5},{"n":96,"x":2,"y":1.5},{"n":96,"x":3,"y":3.2},{"n":96,"x":4,"y":4.9},{"n":96,"x":6,"y":7.8},{"n":96,"x":10,"y":9.6},
    {"n":97,"x":0,"y":0},{"n":97,"x":1,"y":0.3},{"n":97,"x":2,"y":0.9},{"n":97,"x":3,"y":1.9},{"n":97,"x":4,"y":3},{"n":97,"x":6,"y":4.9},{"n":97,"x":10,"y":5.3},
    {"n":98,"x":0,"y":0},{"n":98,"x":1,"y":-0.4},{"n":98,"x":2,"y":-0.1},{"n":98,"x":3,"y":0.5},{"n":98,"x":4,"y":1.1},{"n":98,"x":6,"y":2.1},{"n":98,"x":10,"y":2.6},
    {"n":99,"x":0,"y":0},{"n":99,"x":1,"y":0.8},{"n":99,"x":2,"y":1.9},{"n":99,"x":3,"y":3.9},{"n":99,"x":4,"y":5.8},{"n":99,"x":6,"y":8.6},{"n":99,"x":10,"y":11},
    {"n":100,"x":0,"y":0},{"n":100,"x":1,"y":0.2},{"n":100,"x":2,"y":0.8},{"n":100,"x":3,"y":1.6},{"n":100,"x":4,"y":2.4},{"n":100,"x":6,"y":3.8},{"n":100,"x":10,"y":4.1},
    {"n":101,"x":0,"y":0},{"n":101,"x":1,"y":1},{"n":101,"x":2,"y":2.5},{"n":101,"x":3,"y":6},{"n":101,"x":4,"y":9},{"n":101,"x":6,"y":12},{"n":101,"x":10,"y":15},
    {"n":102,"x":0,"y":0},{"n":102,"x":1,"y":0.8},{"n":102,"x":2,"y":2},{"n":102,"x":3,"y":5},{"n":102,"x":4,"y":8},{"n":102,"x":6,"y":18},{"n":102,"x":10,"y":20},
    {"n":103,"x":0,"y":0},{"n":103,"x":1,"y":1.2},{"n":103,"x":2,"y":3},{"n":103,"x":3,"y":7},{"n":103,"x":4,"y":11},{"n":103,"x":6,"y":17},{"n":103,"x":10,"y":14},
    {"n":104,"x":0,"y":0},{"n":104,"x":1,"y":0.5},{"n":104,"x":2,"y":1.5},{"n":104,"x":3,"y":4},{"n":104,"x":4,"y":6},{"n":104,"x":6,"y":10},{"n":104,"x":10,"y":13},
    {"n":105,"x":0,"y":0},{"n":105,"x":1,"y":1.5},{"n":105,"x":2,"y":4},{"n":105,"x":3,"y":9},{"n":105,"x":4,"y":13},{"n":105,"x":6,"y":22},{"n":105,"x":10,"y":19},
    {"n":106,"x":0,"y":0},{"n":106,"x":1,"y":0.6},{"n":106,"x":2,"y":1.8},{"n":106,"x":3,"y":4.5},{"n":106,"x":4,"y":7},{"n":106,"x":6,"y":12},{"n":106,"x":10,"y":13.5},
    {"n":107,"x":0,"y":0},{"n":107,"x":1,"y":1},{"n":107,"x":2,"y":3},{"n":107,"x":3,"y":9},{"n":107,"x":4,"y":12},{"n":107,"x":6,"y":16},{"n":107,"x":10,"y":18},
    {"n":108,"x":0,"y":0},{"n":108,"x":1,"y":0.8},{"n":108,"x":2,"y":2.5},{"n":108,"x":3,"y":7},{"n":108,"x":4,"y":10},{"n":108,"x":6,"y":13},{"n":108,"x":10,"y":14.5},
    {"n":109,"x":0,"y":0},{"n":109,"x":1,"y":1.5},{"n":109,"x":2,"y":4},{"n":109,"x":3,"y":11},{"n":109,"x":4,"y":15},{"n":109,"x":6,"y":19},{"n":109,"x":10,"y":22},
    {"n":110,"x":0,"y":0},{"n":110,"x":1,"y":0.6},{"n":110,"x":2,"y":2},{"n":110,"x":3,"y":6},{"n":110,"x":4,"y":9},{"n":110,"x":6,"y":12.5},{"n":110,"x":10,"y":12},
    {"n":111,"x":0,"y":0},{"n":111,"x":1,"y":1.2},{"n":111,"x":2,"y":3.5},{"n":111,"x":3,"y":12},{"n":111,"x":4,"y":14},{"n":111,"x":6,"y":17},{"n":111,"x":10,"y":16},
    {"n":112,"x":0,"y":0},{"n":112,"x":1,"y":2},{"n":112,"x":2,"y":5},{"n":112,"x":3,"y":14},{"n":112,"x":4,"y":18},{"n":112,"x":6,"y":23},{"n":112,"x":10,"y":24},
    {"n":113,"x":0,"y":0},{"n":113,"x":1,"y":0.7},{"n":113,"x":2,"y":2},{"n":113,"x":3,"y":5.5},{"n":113,"x":4,"y":8},{"n":113,"x":6,"y":11},{"n":113,"x":10,"y":12.5},
    {"n":114,"x":0,"y":0},{"n":114,"x":1,"y":1},{"n":114,"x":2,"y":2.8},{"n":114,"x":3,"y":8},{"n":114,"x":4,"y":11},{"n":114,"x":6,"y":14.5},{"n":114,"x":10,"y":13},
    {"n":115,"x":0,"y":0},{"n":115,"x":1,"y":0.5},{"n":115,"x":2,"y":1.5},{"n":115,"x":3,"y":4},{"n":115,"x":4,"y":6.5},{"n":115,"x":6,"y":9},{"n":115,"x":10,"y":10},
    {"n":116,"x":0,"y":0},{"n":116,"x":1,"y":1.3},{"n":116,"x":2,"y":3.2},{"n":116,"x":3,"y":10},{"n":116,"x":4,"y":13},{"n":116,"x":6,"y":20},{"n":116,"x":10,"y":21},
    {"n":117,"x":0,"y":0},{"n":117,"x":1,"y":0.4},{"n":117,"x":2,"y":1.4},{"n":117,"x":3,"y":3.5},{"n":117,"x":4,"y":5.5},{"n":117,"x":6,"y":8},{"n":117,"x":10,"y":11},
    {"n":118,"x":0,"y":0},{"n":118,"x":1,"y":0.9},{"n":118,"x":2,"y":2.3},{"n":118,"x":3,"y":6.5},{"n":118,"x":4,"y":9.5},{"n":118,"x":6,"y":13.5},{"n":118,"x":10,"y":16},
    {"n":119,"x":0,"y":0},{"n":119,"x":1,"y":1.5},{"n":119,"x":2,"y":3.5},{"n":119,"x":3,"y":10},{"n":119,"x":4,"y":16},{"n":119,"x":6,"y":22},{"n":119,"x":10,"y":13},
    {"n":120,"x":0,"y":0},{"n":120,"x":1,"y":1},{"n":120,"x":2,"y":3},{"n":120,"x":3,"y":9},{"n":120,"x":4,"y":14},{"n":120,"x":6,"y":24},{"n":120,"x":10,"y":16}
  ],
  "c": [
    {"g": "ΔV=10", "x": 0, "y": 0}, {"g": "ΔV=10", "x": 1, "y": 0.65}, {"g": "ΔV=10", "x": 2, "y": 0.91}, {"g": "ΔV=10", "x": 3, "y": 1.99}, {"g": "ΔV=10", "x": 4, "y": 2.98}, {"g": "ΔV=10", "x": 6, "y": 5.68}, {"g": "ΔV=10", "x": 10, "y": 8.6},
    {"g": "ΔV=6", "x": 0, "y": 0}, {"g": "ΔV=6", "x": 1, "y": 0.96}, {"g": "ΔV=6", "x": 2, "y": 1.73}, {"g": "ΔV=6", "x": 3, "y": 3.1}, {"g": "ΔV=6", "x": 4, "y": 4.33}, {"g": "ΔV=6", "x": 6, "y": 7.42},
    {"g": "ΔV=4", "x": 0, "y": 0}, {"g": "ΔV=4", "x": 1, "y": 1.71}, {"g": "ΔV=4", "x": 2, "y": 3.94}, {"g": "ΔV=4", "x": 3, "y": 5.84}, {"g": "ΔV=4", "x": 4, "y": 6.58},
    {"g": "ΔV=3", "x": 0, "y": 0}, {"g": "ΔV=3", "x": 1, "y": 2.27}, {"g": "ΔV=3", "x": 2, "y": 5.64}, {"g": "ΔV=3", "x": 3, "y": 7.57},
    {"g": "ΔV=2", "x": 0, "y": 0}, {"g": "ΔV=2", "x": 1, "y": 4.09}, {"g": "ΔV=2", "x": 2, "y": 8.7}
  ]
},
"spacing": 111,
"hconcat": [
  {
    "width": 228,
    "height": 239,
    "title": {"text": "a", "anchor": "start", "frame": "bounds", "fontSize": 34, "fontWeight": "normal", "offset": -4, "color": "#111"},
    "layer": [
      {
        "data": {"name": "aref"},
        "mark": {"type": "rule", "color": "#b3b3b3", "strokeWidth": 2, "strokeDash": [9, 7]},
        "encoding": {
          "x": {"field": "x", "type": "quantitative", "scale": {"domain": [-0.94, 11], "nice": false, "zero": false},
                "axis": {"title": "Value", "values": [0, 2, 4, 6, 8, 10], "labelFontSize": 15, "titleFontSize": 23, "labelPadding": 8, "titlePadding": 11}},
          "x2": {"field": "x2"},
          "y": {"field": "y", "type": "quantitative", "scale": {"domain": [0, 3], "nice": false},
                "axis": {"title": "Firing rate", "values": [1, 2], "labels": false, "titleFontSize": 24, "titlePadding": 16}}
        }
      },
      {
        "data": {"name": "alines"},
        "mark": {"type": "line", "strokeWidth": 6, "strokeCap": "butt"},
        "encoding": {
          "x": {"field": "x", "type": "quantitative"},
          "y": {"field": "y", "type": "quantitative"},
          "color": {"field": "d", "type": "nominal", "scale": {"domain": ["2", "4", "6", "10"], "range": ["#0000cc", "#22cc22", "#ffaa33", "#ff0000"]}, "legend": null}
        }
      }
    ]
  },
  {
    "spacing": 74,
    "resolve": {"scale": {"color": "independent"}, "legend": {"color": "independent"}},
    "hconcat": [
      {
        "width": 381,
        "height": 417,
        "title": {"text": "b", "anchor": "start", "frame": "bounds", "fontSize": 34, "fontWeight": "normal", "offset": -4, "color": "#111"},
        "encoding": {
          "x": {"field": "x", "type": "quantitative", "scale": {"domain": [0, 10.52], "nice": false},
                "axis": {"title": "Offer value (uV)", "values": [0, 2, 4, 6, 8, 10], "labelFontSize": 19, "titleFontSize": 23, "labelPadding": 12, "titlePadding": 18}},
          "y": {"field": "y", "type": "quantitative", "scale": {"domain": [-1.93, 24.9], "nice": false, "zero": false},
                "axis": {"title": "Firing rate (sp/s)", "values": [0, 10, 20], "labelFontSize": 19, "titleFontSize": 23, "labelPadding": 8, "titlePadding": 13}},
          "detail": {"field": "n", "type": "nominal"}
        },
        "layer": [
          {"data": {"name": "b10"}, "mark": {"type": "line", "color": "#ff1a1a", "strokeWidth": 0.9, "opacity": 0.55, "clip": true}},
          {"data": {"name": "b6"}, "mark": {"type": "line", "color": "#ffa020", "strokeWidth": 1, "opacity": 0.65, "clip": true}},
          {"data": {"name": "b4"}, "mark": {"type": "line", "color": "#33bb33", "strokeWidth": 1, "opacity": 0.6, "clip": true}},
          {"data": {"name": "b3"}, "mark": {"type": "line", "color": "#2ec4ec", "strokeWidth": 1, "opacity": 0.65, "clip": true}},
          {"data": {"name": "b2"}, "mark": {"type": "line", "color": "#1438d8", "strokeWidth": 1, "opacity": 0.65, "clip": true}}
        ]
      },
      {
        "width": 380,
        "height": 418,
        "title": {"text": "c", "anchor": "start", "frame": "bounds", "fontSize": 34, "fontWeight": "bold", "offset": -4, "color": "#111"},
        "data": {"name": "c"},
        "encoding": {
          "x": {"field": "x", "type": "quantitative", "scale": {"domain": [0, 10.47], "nice": false},
                "axis": {"title": "Offer value (uV)", "values": [0, 2, 4, 6, 8, 10], "labelFontSize": 19, "titleFontSize": 23, "labelPadding": 12, "titlePadding": 18}},
          "y": {"field": "y", "type": "quantitative", "scale": {"domain": [0, 10.51], "nice": false},
                "axis": {"title": "Average firing rate (sp/s)", "values": [0, 2, 4, 6, 8, 10], "labelFontSize": 19, "titleFontSize": 23, "labelPadding": 15, "titlePadding": 12}},
          "color": {"field": "g", "type": "nominal",
                    "scale": {"domain": ["ΔV=2", "ΔV=3", "ΔV=4", "ΔV=6", "ΔV=10"], "range": ["#0b0bb4", "#33ccff", "#22d422", "#ffb23c", "#ff0a0a"]},
                    "legend": {"title": null, "orient": "none", "legendX": 264, "legendY": 260, "strokeColor": "#222", "fillColor": "white", "padding": 7, "symbolType": "stroke", "symbolSize": 1600, "symbolStrokeWidth": 5.5, "labelFontSize": 18, "labelFont": "Liberation Sans", "labelColor": "#111", "labelOffset": 7, "clipHeight": 26, "rowPadding": 0}}
        },
        "layer": [
          {"mark": {"type": "line", "strokeWidth": 5}},
          {"mark": {"type": "point", "filled": true, "size": 200, "opacity": 1}}
        ]
      }
    ]
  }
]
}
